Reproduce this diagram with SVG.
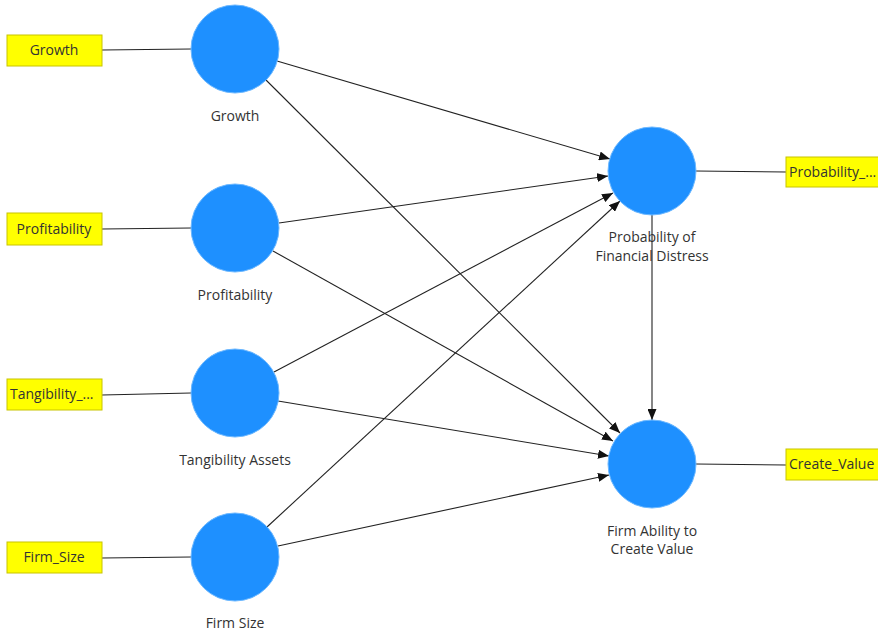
<svg xmlns="http://www.w3.org/2000/svg" width="878" height="632" viewBox="0 0 878 632">
<style>
.lv{fill:#1E90FF;stroke:#6CB8FF;stroke-width:1}
.ind{fill:#FFFF00;stroke:#C8C400;stroke-width:1}
.t{font-family:"Open Sans","Noto Sans",sans-serif;font-size:14px;fill:#333}
.c{text-anchor:middle}
.ln{stroke:#222;stroke-width:1.1;fill:none}
.ar{stroke:#222;stroke-width:1.1;fill:none;marker-end:url(#ah)}
</style>
<defs>
<marker id="ah" viewBox="0 0 11 9" refX="11" refY="4.5" markerWidth="11" markerHeight="9" markerUnits="userSpaceOnUse" orient="auto">
<path d="M0,0 L11,4.5 L0,9 Z" fill="#111"/>
</marker>
</defs>
<rect width="878" height="632" fill="#fff"/>
<g id="connectors">
<line class="ln" x1="102" y1="50" x2="191" y2="49"/>
<line class="ln" x1="102" y1="229" x2="191" y2="228"/>
<line class="ln" x1="102" y1="395" x2="191" y2="393"/>
<line class="ln" x1="102" y1="558" x2="191" y2="557"/>
<line class="ln" x1="696" y1="171" x2="786" y2="172"/>
<line class="ln" x1="696" y1="464" x2="786" y2="465"/>
<line class="ar" x1="277" y1="61" x2="610" y2="159"/>
<line class="ar" x1="266" y1="80" x2="620" y2="433"/>
<line class="ar" x1="279" y1="223" x2="608" y2="176"/>
<line class="ar" x1="273" y1="251" x2="613" y2="441"/>
<line class="ar" x1="274" y1="372" x2="613" y2="193"/>
<line class="ar" x1="278" y1="401" x2="609" y2="456"/>
<line class="ar" x1="267" y1="527" x2="620" y2="201"/>
<line class="ar" x1="278" y1="546" x2="609" y2="475"/>
<line class="ar" x1="652" y1="215" x2="652" y2="420"/>
</g>
<g id="ind-growth"><rect class="ind" x="7" y="35" width="95" height="31"/><text class="t c" x="54" y="55">Growth</text></g>
<g id="ind-profitability"><rect class="ind" x="7" y="213" width="95" height="32"/><text class="t c" x="54" y="234">Profitability</text></g>
<g id="ind-tangibility"><rect class="ind" x="7" y="379" width="95" height="31"/><text class="t" x="10" y="399">Tangibility_...</text></g>
<g id="ind-firmsize"><rect class="ind" x="7" y="542" width="95" height="31"/><text class="t c" x="54" y="562">Firm_Size</text></g>
<g id="ind-probability"><rect class="ind" x="786" y="157" width="95" height="30"/><text class="t" x="789" y="177">Probability_...</text></g>
<g id="ind-createvalue"><rect class="ind" x="786" y="449" width="95" height="31"/><text class="t" x="789" y="469">Create_Value</text></g>
<g id="lv-growth"><circle class="lv" cx="235" cy="49" r="44"/><text class="t c" x="235" y="121">Growth</text></g>
<g id="lv-profitability"><circle class="lv" cx="235" cy="228" r="44"/><text class="t c" x="235" y="300">Profitability</text></g>
<g id="lv-tangibility"><circle class="lv" cx="235" cy="393" r="44"/><text class="t c" x="235" y="465">Tangibility Assets</text></g>
<g id="lv-firmsize"><circle class="lv" cx="235" cy="557" r="44"/><text class="t c" x="235" y="628">Firm Size</text></g>
<g id="lv-probability"><circle class="lv" cx="652" cy="171" r="44"/><text class="t c" x="652" y="242">Probability of</text><text class="t c" x="652" y="261">Financial Distress</text></g>
<g id="lv-firmability"><circle class="lv" cx="652" cy="464" r="44"/><text class="t c" x="652" y="536">Firm Ability to</text><text class="t c" x="652" y="554">Create Value</text></g>
</svg>
